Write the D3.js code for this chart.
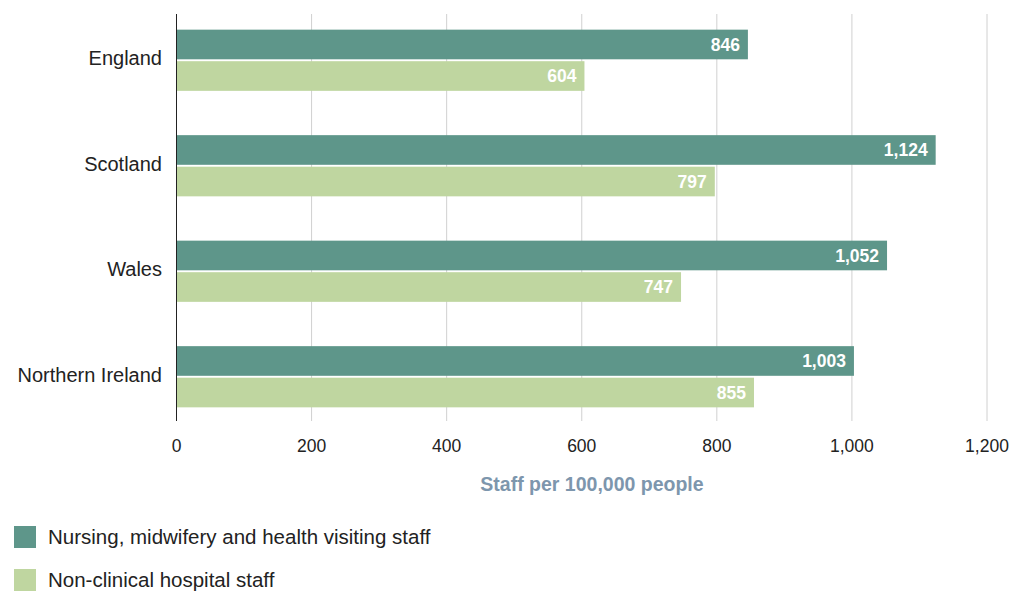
<!DOCTYPE html>
<html>
<head>
<meta charset="utf-8">
<script src="https://cdn.jsdelivr.net/npm/d3@7"></script>
<style>
  body { margin: 0; background: #fff; }
  svg { font-family: "Liberation Sans", Arial, sans-serif; }
</style>
</head>
<body>
<svg id="chart" width="1025" height="594"></svg>
<script>
// data
const nations = ["England", "Scotland", "Wales", "Northern Ireland"];
const nursing = [846, 1124, 1052, 1003];
const nonClinical = [604, 797, 747, 855];
const seriesNames = ["Nursing, midwifery and health visiting staff", "Non-clinical hospital staff"];
const seriesColors = ["#5e968a", "#bfd6a0"];
const xTicks = [0, 200, 400, 600, 800, 1000, 1200];

const svg = d3.select("#chart");
const padding = { top: 14, bottom: 421, left: 176.5, right: 987 };

const xScale = d3.scaleLinear()
  .domain([0, 1200])
  .range([padding.left, padding.right]);

const yScale = d3.scaleBand()
  .domain(nations)
  .range([7.5, 429.5])
  .paddingInner(0.42)
  .paddingOuter(0.21);

const subScale = d3.scaleBand()
  .domain([0, 1])
  .range([0, yScale.bandwidth()])
  .paddingInner(0.06);

// gridlines
svg.append("g")
  .selectAll("line")
  .data(xTicks.filter(d => d > 0))
  .join("line")
  .attr("x1", d => xScale(d))
  .attr("x2", d => xScale(d))
  .attr("y1", padding.top)
  .attr("y2", padding.bottom)
  .attr("stroke", "#d0d0d0")
  .attr("stroke-width", 1);

// bars
const rows = nations.map((n, i) => ({ nation: n, values: [nursing[i], nonClinical[i]] }));
const groups = svg.append("g")
  .selectAll("g")
  .data(rows)
  .join("g")
  .attr("transform", d => `translate(0, ${yScale(d.nation)})`);

groups.selectAll("rect")
  .data(d => d.values)
  .join("rect")
  .attr("x", xScale(0))
  .attr("y", (d, i) => subScale(i))
  .attr("width", d => xScale(d) - xScale(0))
  .attr("height", subScale.bandwidth())
  .attr("fill", (d, i) => seriesColors[i]);

const fmt = d3.format(",");
groups.selectAll("text")
  .data(d => d.values)
  .join("text")
  .attr("x", d => xScale(d) - 8)
  .attr("y", (d, i) => subScale(i) + subScale.bandwidth() / 2)
  .attr("dy", "0.36em")
  .attr("text-anchor", "end")
  .attr("fill", "#fff")
  .attr("font-size", 17.5)
  .attr("font-weight", "bold")
  .text(d => fmt(d));

// y axis line
svg.append("line")
  .attr("x1", xScale(0))
  .attr("x2", xScale(0))
  .attr("y1", padding.top)
  .attr("y2", padding.bottom)
  .attr("stroke", "#222")
  .attr("stroke-width", 1);

// category labels
svg.append("g")
  .selectAll("text")
  .data(nations)
  .join("text")
  .attr("x", 162)
  .attr("y", d => yScale(d) + yScale.bandwidth() / 2 - 2)
  .attr("dy", "0.36em")
  .attr("text-anchor", "end")
  .attr("font-size", 20)
  .attr("fill", "#222")
  .text(d => d);

// x tick labels
svg.append("g")
  .selectAll("text")
  .data(xTicks)
  .join("text")
  .attr("x", d => xScale(d))
  .attr("y", 446)
  .attr("dy", "0.36em")
  .attr("text-anchor", "middle")
  .attr("font-size", 17.5)
  .attr("fill", "#222")
  .text(d => fmt(d));

// x axis title
svg.append("text")
  .attr("x", 592)
  .attr("y", 484)
  .attr("dy", "0.36em")
  .attr("text-anchor", "middle")
  .attr("font-size", 19.5)
  .attr("font-weight", "bold")
  .attr("fill", "#7d96ad")
  .text("Staff per 100,000 people");

// legend
const legend = svg.append("g")
  .selectAll("g")
  .data(seriesNames)
  .join("g")
  .attr("transform", (d, i) => `translate(14, ${526 + i * 43})`);

legend.append("rect")
  .attr("width", 22)
  .attr("height", 22)
  .attr("fill", (d, i) => seriesColors[i]);

legend.append("text")
  .attr("x", 34)
  .attr("y", 11)
  .attr("dy", "0.36em")
  .attr("font-size", 20.5)
  .attr("fill", "#222")
  .text(d => d);
</script>
</body>
</html>
